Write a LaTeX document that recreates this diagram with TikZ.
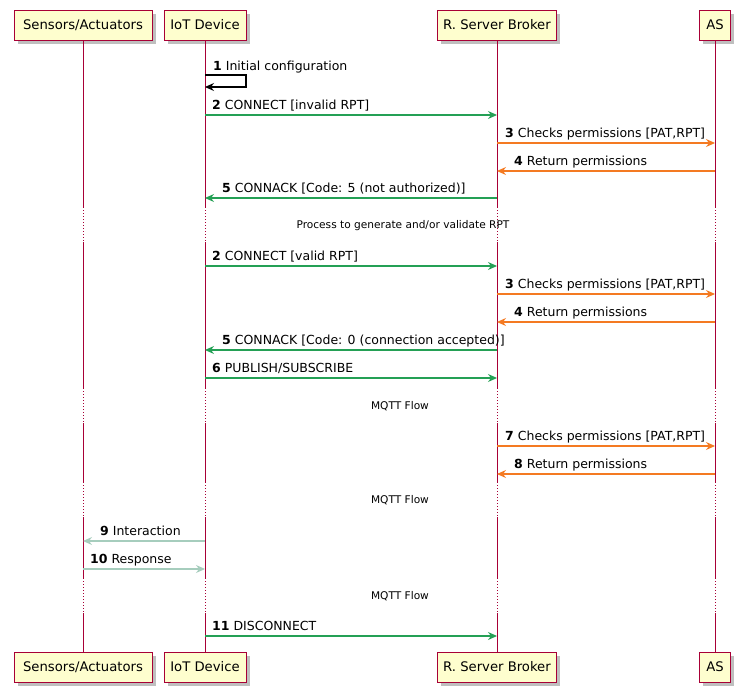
\documentclass[tikz,border=0pt]{standalone}
\usepackage{fontspec}
\setmainfont{DejaVu Sans}
\usetikzlibrary{arrows.meta,shadows,calc}
\definecolor{lifec}{HTML}{A80036}
\definecolor{pfill}{HTML}{FEFECE}
\definecolor{grn}{HTML}{24A055}
\definecolor{org}{HTML}{F47A22}
\definecolor{lgt}{HTML}{A6CDBD}
\begin{document}
\begin{tikzpicture}[x=1pt,y=-1pt,
  part/.style={draw=lifec, fill=pfill, line width=1pt, minimum height=30pt, inner xsep=2pt, inner ysep=0pt,
    font=\fontsize{13.2}{15}\selectfont,
    drop shadow={shadow xshift=3.5pt, shadow yshift=-3.5pt, opacity=0.5, fill=gray}},
  lifeline/.style={color=lifec, line width=1pt},
  lifedot/.style={color=lifec, line width=1pt, dash pattern=on 1pt off 2pt},
  msg/.style={line width=1.2pt, -{Stealth[length=9pt,width=8pt,inset=3pt]}},
  lbl/.style={anchor=base west, inner sep=0pt, font=\fontsize{12.5}{15}\selectfont},
  dly/.style={inner sep=0pt, font=\fontsize{10.6}{13}\selectfont}]
\useasboundingbox (0,0) rectangle (740,696);
% participants
\node[part, minimum width=138pt] (sa) at (83,25) {Sensors/Actuators};
\node[part, minimum width=82pt] (iot) at (205,25) {IoT Device};
\node[part, minimum width=119pt] (rs) at (497,25) {R. Server Broker};
\node[part, minimum width=31pt] (as) at (715,25) {AS};
\node[part, minimum width=138pt] (sa2) at (83,667) {Sensors/Actuators};
\node[part, minimum width=82pt] (iot2) at (205,667) {IoT Device};
\node[part, minimum width=119pt] (rs2) at (497,667) {R. Server Broker};
\node[part, minimum width=31pt] (as2) at (715,667) {AS};
% lifelines
\foreach \p/\q in {sa/sa2,iot/iot2,rs/rs2,as/as2}{
  \draw[lifeline] (\p.south) -- (\p.south |- 0,207);
  \draw[lifedot] (\p.south |- 0,207) -- (\p.south |- 0,242);
  \draw[lifeline] (\p.south |- 0,242) -- (\p.south |- 0,388);
  \draw[lifedot] (\p.south |- 0,388) -- (\p.south |- 0,423);
  \draw[lifeline] (\p.south |- 0,423) -- (\p.south |- 0,482);
  \draw[lifedot] (\p.south |- 0,482) -- (\p.south |- 0,517);
  \draw[lifeline] (\p.south |- 0,517) -- (\p.south |- 0,578);
  \draw[lifedot] (\p.south |- 0,578) -- (\p.south |- 0,613);
  \draw[lifeline] (\p.south |- 0,613) -- (\q.north);
}
% 1 self message
\draw[msg, black] (iot |- 0,75) -- ++(41,0) -- ++(0,12) -- (iot |- 0,87);
\node[lbl, xshift=8pt] at (iot |- 0,70) {\textbf{1} Initial configuration};
% first group
\draw[msg, grn] (iot |- 0,115) -- (rs |- 0,115);
\node[lbl, xshift=7pt] at (iot |- 0,109.5) {\textbf{2} CONNECT [invalid RPT]};
\draw[msg, org] (rs |- 0,143) -- (as |- 0,143);
\node[lbl, xshift=8pt] at (rs |- 0,137.5) {\textbf{3} Checks permissions [PAT,RPT]};
\draw[msg, org] (as |- 0,171) -- (rs |- 0,171);
\node[lbl, xshift=17pt] at (rs |- 0,165.5) {\textbf{4} Return permissions};
\draw[msg, grn] (rs |- 0,198) -- (iot |- 0,198);
\node[lbl, xshift=17pt] at (iot |- 0,192.5) {\textbf{5} CONNACK [Code: 5 (not authorized)]};
\node[dly] (d1) at (403,226) {Process to generate and/or validate RPT};
% second group
\draw[msg, grn] (iot |- 0,266) -- (rs |- 0,266);
\node[lbl, xshift=7pt] at (iot |- 0,260.5) {\textbf{2} CONNECT [valid RPT]};
\draw[msg, org] (rs |- 0,294) -- (as |- 0,294);
\node[lbl, xshift=8pt] at (rs |- 0,288.5) {\textbf{3} Checks permissions [PAT,RPT]};
\draw[msg, org] (as |- 0,322) -- (rs |- 0,322);
\node[lbl, xshift=17pt] at (rs |- 0,316.5) {\textbf{4} Return permissions};
\draw[msg, grn] (rs |- 0,350) -- (iot |- 0,350);
\node[lbl, xshift=17pt] at (iot |- 0,344.5) {\textbf{5} CONNACK [Code: 0 (connection accepted)]};
\draw[msg, grn] (iot |- 0,378) -- (rs |- 0,378);
\node[lbl, xshift=7pt] at (iot |- 0,372.5) {\textbf{6} PUBLISH/SUBSCRIBE};
\node[dly] (d2) at (400,406) {MQTT Flow};
\draw[msg, org] (rs |- 0,446) -- (as |- 0,446);
\node[lbl, xshift=8pt] at (rs |- 0,440.5) {\textbf{7} Checks permissions [PAT,RPT]};
\draw[msg, org] (as |- 0,474) -- (rs |- 0,474);
\node[lbl, xshift=17pt] at (rs |- 0,468.5) {\textbf{8} Return permissions};
\node[dly] (d3) at (400,500) {MQTT Flow};
\draw[msg, lgt] (iot |- 0,541) -- (sa |- 0,541);
\node[lbl, xshift=17pt] at (sa |- 0,535.5) {\textbf{9} Interaction};
\draw[msg, lgt] (sa |- 0,569) -- (iot |- 0,569);
\node[lbl, xshift=7pt] at (sa |- 0,563.5) {\textbf{10} Response};
\node[dly] (d4) at (400,596) {MQTT Flow};
\draw[msg, grn] (iot |- 0,636) -- (rs |- 0,636);
\node[lbl, xshift=7pt] at (iot |- 0,630.5) {\textbf{11} DISCONNECT};
\end{tikzpicture}
\end{document}
